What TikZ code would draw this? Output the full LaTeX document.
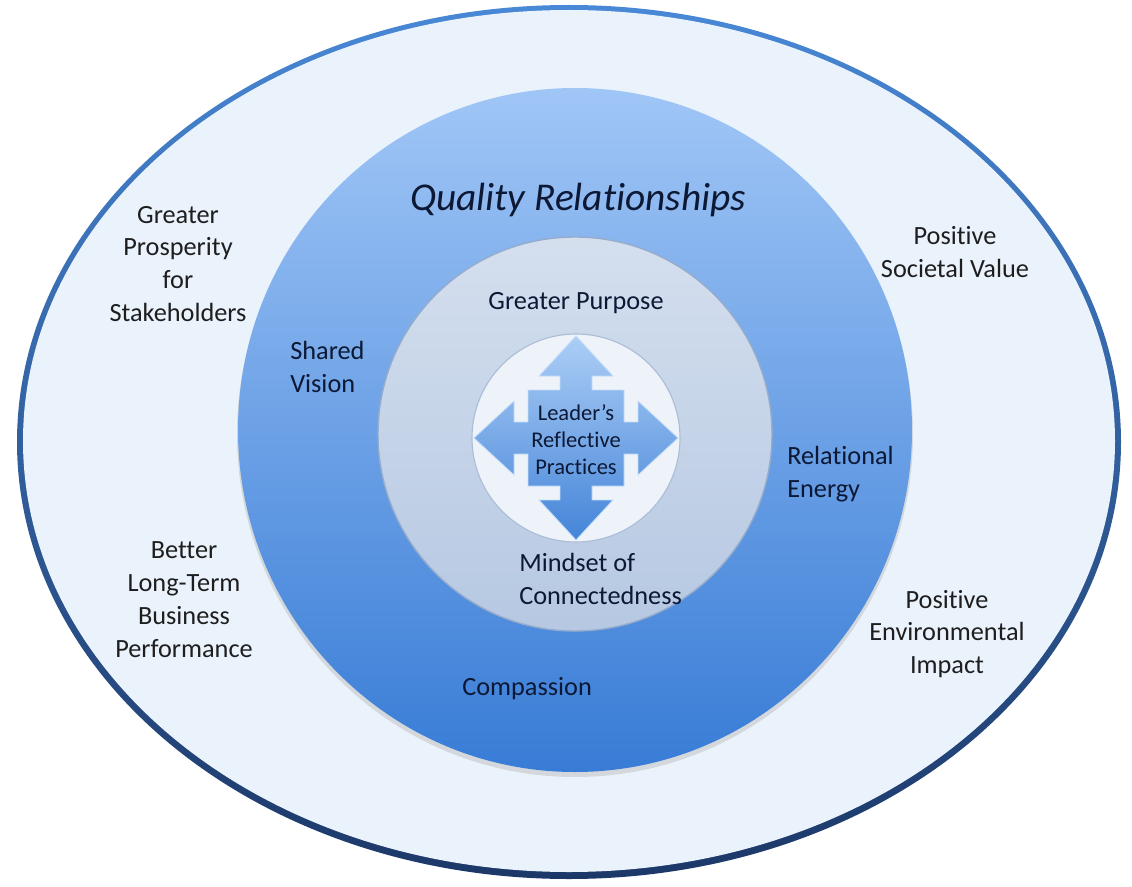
\documentclass[tikz,border=0pt]{standalone}
\usepackage{fontspec}
\setmainfont{Carlito}[Ligatures={TeX,NoCommon}, Contextuals={NoAlternate}]

\definecolor{rimtop}{RGB}{72,136,214}
\definecolor{rimbot}{RGB}{28,56,104}
\definecolor{outerfill}{RGB}{234,242,252}
\definecolor{midtop}{RGB}{160,198,246}
\definecolor{midbot}{RGB}{56,124,214}
\definecolor{innertop}{RGB}{212,223,238}
\definecolor{innerbot}{RGB}{182,200,226}
\definecolor{innerrim}{RGB}{150,172,205}
\definecolor{corefill}{RGB}{238,243,250}
\definecolor{arrowtop}{RGB}{172,206,246}
\definecolor{arrowbot}{RGB}{68,132,216}
\definecolor{outertext}{RGB}{30,30,30}
\definecolor{innertext}{RGB}{12,24,52}

\tikzset{
  outerlbl/.style={align=center, text=outertext, inner sep=0pt,
    font=\fontsize{18.7}{23.4}\selectfont},
  innerlbl/.style={text=innertext, inner sep=0pt,
    font=\fontsize{18.7}{23.4}\selectfont},
}

\begin{document}
\begin{tikzpicture}[x=0.025cm, y=-0.025cm]
\useasboundingbox[fill=white] (0,0) rectangle (1132,887);

% outer ring
\shade[top color=rimtop, bottom color=rimbot] (569,442) ellipse [x radius=552, y radius=437];
\fill[outerfill] (569,441) ellipse [x radius=546, y radius=431];

% middle disc
\fill[black!25, opacity=.5] (575,434) ellipse [x radius=338, y radius=343];
\shade[top color=midtop, bottom color=midbot] (575,430) ellipse [x radius=337, y radius=342];

% inner disc
\shade[top color=innertop, bottom color=innerbot, draw=innerrim, line width=1pt] (575,434) circle [radius=197];
\fill[corefill, draw=innerrim!80, line width=.8pt] (576,438) circle [radius=104];

% four-way arrow
\begin{scope}[shift={(576,438)}]
  \shade[top color=arrowtop, bottom color=arrowbot, draw=arrowtop!70!white, line width=.6pt]
    (0,-102) -- (37,-62) -- (16,-62) -- (16,-48) -- (48,-48) -- (48,-16) -- (62,-16) -- (62,-37)
    -- (102,0) -- (62,37) -- (62,16) -- (48,16) -- (48,48) -- (16,48) -- (16,62) -- (37,62)
    -- (0,102) -- (-37,62) -- (-16,62) -- (-16,48) -- (-48,48) -- (-48,16) -- (-62,16) -- (-62,37)
    -- (-102,0) -- (-62,-37) -- (-62,-16) -- (-48,-16) -- (-48,-48) -- (-16,-48) -- (-16,-62) -- (-37,-62)
    -- cycle;
\end{scope}

\node[align=center, text=innertext, inner sep=0pt, font=\fontsize{16}{19.2}\selectfont] (leader) at (576,440) {Leader's\\Reflective\\Practices};

% labels
\node[text=innertext, inner sep=0pt, font=\fontsize{28}{34}\selectfont\itshape] (quality) at (578,200) {Quality Relationships};
\node[innerlbl] (purpose) at (576,303) {Greater Purpose};
\node[innerlbl, align=left, anchor=west] (vision) at (290,367) {Shared\\Vision};
\node[innerlbl, align=left, anchor=west] (energy) at (787,474) {Relational\\Energy};
\node[innerlbl, align=left, anchor=west] (mindset) at (519,579) {Mindset of\\Connectedness};
\node[innerlbl, anchor=west] (compassion) at (462,689) {Compassion};

\node[outerlbl] (prosperity) at (178,264) {Greater\\Prosperity\\for\\Stakeholders};
\node[outerlbl] (business) at (184,600) {Better\\Long-Term\\Business\\Performance};
\node[outerlbl] (societal) at (955,252) {Positive\\Societal Value};
\node[outerlbl] (environ) at (947,634) {Positive\\Environmental\\Impact};

\end{tikzpicture}
\end{document}
